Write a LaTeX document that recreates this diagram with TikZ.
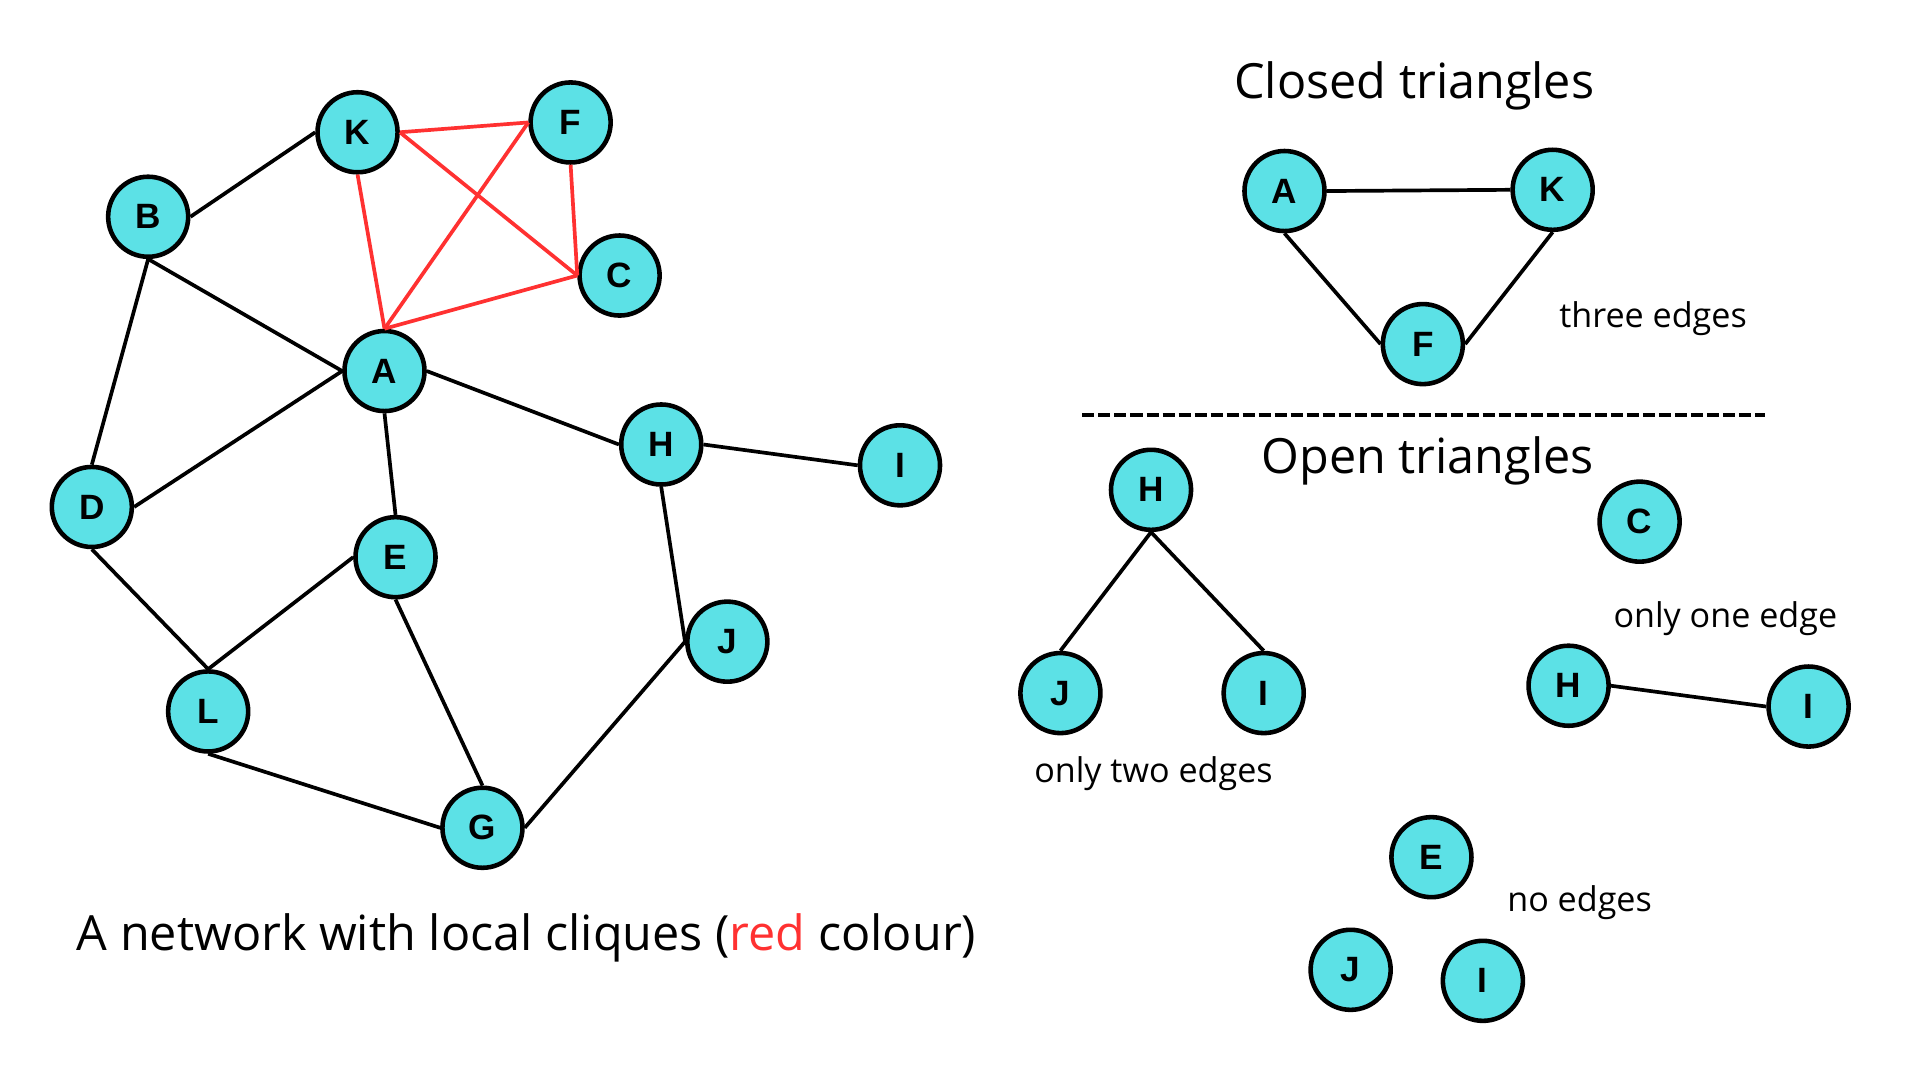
\documentclass[tikz,border=0pt]{standalone}
\usepackage{fontspec}
\setmainfont{Open Sans}
\newfontfamily\nodefont{Liberation Sans}
\definecolor{nodecyan}{HTML}{5CE1E6}
\definecolor{cliquered}{HTML}{FF3131}
\tikzset{
  vertex/.style={circle,draw=black,line width=1.3pt,fill=nodecyan,minimum size=0.8cm,inner sep=0pt,font=\nodefont\bfseries\fontsize{10}{10}\selectfont},
  edge/.style={line width=1.05pt,black},
  clique/.style={line width=1.05pt,cliquered},
  note/.style={font=\fontsize{9.7}{11}\selectfont},
  heading/.style={font=\fontsize{13.8}{16}\selectfont}
}
\begin{document}
\begin{tikzpicture}[x=0.012245cm,y=-0.012245cm]
                \useasboundingbox (0,0) rectangle (1568,882);
                % the network
                \node[vertex] (K) at (292,108) {K};
                \node[vertex] (F) at (466,100) {F};
                \node[vertex] (B) at (121,177) {B};
                \node[vertex] (C) at (506,225) {C};
                \node[vertex] (A) at (314,303) {A};
                \node[vertex] (H) at (540,363) {H};
                \node[vertex] (I) at (735,380) {I};
                \node[vertex] (D) at (75,414) {D};
                \node[vertex] (E) at (323,455) {E};
                \node[vertex] (J) at (594,524) {J};
                \node[vertex] (L) at (170,581) {L};
                \node[vertex] (G) at (394,676) {G};

                \draw[edge] (B.east) -- (K.west);
                \draw[edge] (B.south) -- (A.west);
                \draw[edge] (B.south) -- (D.north);
                \draw[edge] (D.east) -- (A.west);
                \draw[edge] (D.south) -- (L.north);
                \draw[edge] (L.north) -- (E.west);
                \draw[edge] (L.south) -- (G.west);
                \draw[edge] (E.north) -- (A.south);
                \draw[edge] (E.south) -- (G.north);
                \draw[edge] (A.east) -- (H.west);
                \draw[edge] (H.east) -- (I.west);
                \draw[edge] (H.south) -- (J.west);
                \draw[edge] (J.west) -- (G.east);

                % the clique
                \draw[clique] (K.east) -- (F.west);
                \draw[clique] (K.east) -- (C.west);
                \draw[clique] (K.south) -- (A.north);
                \draw[clique] (F.west) -- (A.north);
                \draw[clique] (F.south) -- (C.west);
                \draw[clique] (C.west) -- (A.north);

                \node[heading] (caption) at (430,766) {A network with local cliques (\textcolor{cliquered}{red} colour)};

                % closed triangles
                \node[heading] (closed) at (1155,70) {Closed triangles};
                \node[vertex] (tA) at (1049,156) {A};
                \node[vertex] (tK) at (1268,155) {K};
                \node[vertex] (tF) at (1162,281) {F};
                \draw[edge] (tA.east) -- (tK.west);
                \draw[edge] (tA.south) -- (tF.west);
                \draw[edge] (tK.south) -- (tF.east);
                \node[note] (three) at (1350,260) {three edges};

                \coordinate (cutL) at (884,339);
                \coordinate (cutR) at (1441,339);
                \draw[line width=1.2pt,dash pattern=on 0.12cm off 0.04cm] (cutL) -- (cutR);

                % open triangles
                \node[heading] (open) at (1166,376) {Open triangles};
                \node[vertex] (oH) at (940,400) {H};
                \node[vertex] (oJ) at (866,566) {J};
                \node[vertex] (oI) at (1032,566) {I};
                \draw[edge] (oH.south) -- (oJ.north);
                \draw[edge] (oH.south) -- (oI.north);
                \node[note] (two) at (942,632) {only two edges};

                \node[vertex] (pC) at (1339,426) {C};
                \node[vertex] (pH) at (1281,560) {H};
                \node[vertex] (pI) at (1477,577) {I};
                \draw[edge] (pH.east) -- (pI.west);
                \node[note] (one) at (1409,505) {only one edge};

                \node[vertex] (nE) at (1169,700) {E};
                \node[vertex] (nJ) at (1103,792) {J};
                \node[vertex] (nI) at (1211,801) {I};
                \node[note] (none) at (1290,737) {no edges};
            \end{tikzpicture}
\end{document}
